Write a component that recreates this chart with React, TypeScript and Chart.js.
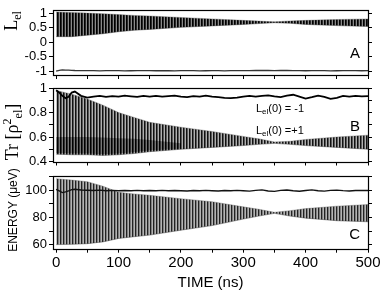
import React, { useEffect, useRef } from 'react';
import { Chart, registerables } from 'chart.js';

Chart.register(...registerables);

// ---------------- data ----------------
const envTimes = [0, 25, 50, 75, 100, 125, 150, 200, 250, 300, 325, 350, 375, 400, 450, 500];

// Panel A (L_el), L_el(0)=+1 oscillation envelope
const aUpper = [1.04, 1.02, 1.0, 0.98, 0.95, 0.92, 0.9, 0.85, 0.8, 0.75, 0.725, 0.7, 0.73, 0.75, 0.78, 0.8];
const aLower = [0.19, 0.19, 0.24, 0.29, 0.36, 0.41, 0.44, 0.51, 0.56, 0.61, 0.64, 0.67, 0.65, 0.61, 0.57, 0.54];

// Panel B (Tr rho^2), L_el(0)=+1 oscillation envelope
const bUpper = [0.98, 0.95, 0.91, 0.86, 0.8, 0.76, 0.72, 0.68, 0.645, 0.605, 0.585, 0.56, 0.565, 0.58, 0.6, 0.615];
const bLower = [0.46, 0.455, 0.455, 0.45, 0.455, 0.465, 0.48, 0.5, 0.515, 0.53, 0.54, 0.548, 0.54, 0.53, 0.515, 0.5];
// darker, densely covered lower part of the panel B band (early times)
const bDenseTimes = [0, 25, 50, 75, 100, 125, 150, 200];
const bDenseTop = [0.6, 0.6, 0.6, 0.595, 0.59, 0.585, 0.575, 0.55];
const bDenseBottom = [0.47, 0.465, 0.465, 0.46, 0.465, 0.475, 0.49, 0.505];

// Panel C (energy), L_el(0)=+1 oscillation envelope
const cUpper = [108.5, 107.5, 106.3, 103, 98.5, 97.3, 96.3, 93.8, 91.6, 87.8, 86, 83.8, 85, 86.5, 88.3, 89.5];
const cLower = [60, 60.2, 60.7, 62, 64.5, 65.8, 67, 70.6, 74, 78.8, 81, 83, 81, 79.5, 77.6, 76.8];

// L_el(0) = -1 curves
const lineTimes = [
  0, 5, 10, 15, 20, 25, 30, 40, 50, 60,
  70, 80, 90, 100, 110, 120, 130, 140, 150, 160,
  170, 180, 190, 200, 210, 220, 230, 240, 250, 260,
  270, 280, 290, 300, 310, 320, 330, 340, 350, 360,
  370, 380, 390, 400, 410, 420, 430, 440, 450, 460,
  470, 480, 490, 500,
];
const aMinus = [
  -1.0, -0.97, -0.955, -0.96, -0.965, -0.97, -0.975, -0.98, -0.978, -0.982,
  -0.985, -0.98, -0.978, -0.982, -0.985, -0.983, -0.98, -0.978, -0.982, -0.984,
  -0.98, -0.983, -0.985, -0.98, -0.978, -0.982, -0.985, -0.983, -0.98, -0.982,
  -0.985, -0.98, -0.978, -0.982, -0.98, -0.975, -0.972, -0.975, -0.978, -0.975,
  -0.972, -0.978, -0.98, -0.983, -0.98, -0.978, -0.982, -0.985, -0.983, -0.98,
  -0.978, -0.982, -0.984, -0.98,
];
const bMinus = [
  0.982, 0.963, 0.936, 0.917, 0.928, 0.963, 0.971, 0.936, 0.922, 0.93,
  0.936, 0.928, 0.934, 0.93, 0.938, 0.932, 0.927, 0.935, 0.93, 0.936,
  0.929, 0.933, 0.938, 0.93, 0.926, 0.934, 0.93, 0.937, 0.929, 0.925,
  0.92, 0.917, 0.922, 0.93, 0.935, 0.93, 0.936, 0.94, 0.932, 0.926,
  0.938, 0.945, 0.93, 0.914, 0.925, 0.938, 0.928, 0.912, 0.92, 0.935,
  0.93, 0.936, 0.932, 0.934,
];
const cMinus = [
  100.7, 99.5, 98.3, 98.8, 99.5, 100.5, 100.7, 100.2, 100, 99.8,
  100.1, 99.7, 99.9, 99.6, 99.8, 99.7, 99.9, 99.6, 99.8, 99.7,
  99.9, 99.6, 99.8, 99.7, 99.5, 99.8, 99.6, 99.9, 99.7, 99.5,
  99.8, 99.6, 99.9, 99.7, 99.4, 99.9, 100.3, 99.5, 99.2, 99.9,
  100.2, 99.6, 99.3, 99.8, 100.3, 99.6, 99.4, 99.9, 100.1, 99.7,
  99.5, 99.8, 99.9, 99.8,
];

// tick labels
const xTickLabels = [0, 100, 200, 300, 400, 500];
const aTickLabels = [1, 0.5, 0, -0.5, -1];
const bTickLabels = [1, 0.8, 0.6, 0.4];
const cTickLabels = [100, 80, 60];

// ---------------- styling ----------------
const SANS = '"Liberation Sans", Arial, Helvetica, sans-serif';
const SERIF = '"Liberation Serif", "Times New Roman", Times, serif';
const W = 382;
const H = 293;

function stripePattern(colors: string[]) {
  const c = document.createElement('canvas');
  c.width = colors.length;
  c.height = 1;
  const g = c.getContext('2d')!;
  colors.forEach((col, i) => {
    g.fillStyle = col;
    g.fillRect(i, 0, 1, 1);
  });
  return g.createPattern(c, 'repeat');
}

type Seg = { text: string; size: number; dy: number; family: string };

function drawRotated(ctx: CanvasRenderingContext2D, baseX: number, cy: number, segs: Seg[]) {
  ctx.save();
  ctx.translate(baseX, cy);
  ctx.rotate(-Math.PI / 2);
  ctx.fillStyle = '#000';
  ctx.textBaseline = 'alphabetic';
  ctx.textAlign = 'left';
  let total = 0;
  segs.forEach((s) => {
    ctx.font = `${s.size}px ${s.family}`;
    total += ctx.measureText(s.text).width;
  });
  let x = -total / 2;
  segs.forEach((s) => {
    ctx.font = `${s.size}px ${s.family}`;
    ctx.fillText(s.text, x, s.dy);
    x += ctx.measureText(s.text).width;
  });
  ctx.restore();
}

function drawRow(ctx: CanvasRenderingContext2D, x0: number, y: number, segs: Seg[]) {
  ctx.save();
  ctx.fillStyle = '#000';
  ctx.textBaseline = 'alphabetic';
  ctx.textAlign = 'left';
  let x = x0;
  segs.forEach((s) => {
    ctx.font = `${s.size}px ${s.family}`;
    ctx.fillText(s.text, x, y + s.dy);
    x += ctx.measureText(s.text).width;
  });
  ctx.restore();
}

function drawLetter(ctx: CanvasRenderingContext2D, letter: string, xRight: number, y: number) {
  ctx.save();
  ctx.fillStyle = '#000';
  ctx.font = `15px ${SANS}`;
  ctx.textAlign = 'right';
  ctx.textBaseline = 'alphabetic';
  ctx.fillText(letter, xRight, y);
  ctx.restore();
}

type PanelCfg = {
  top: number;
  bottom: number;
  min: number;
  max: number;
  step: number;
  yLabels: number[];
  upper: number[];
  lower: number[];
  minus: number[];
  minusWidth: number;
  minusColor: string;
  stripes: string[];
  dense?: { times: number[]; top: number[]; bottom: number[]; stripes: string[] };
  showX: boolean;
  decorate: (ctx: CanvasRenderingContext2D) => void;
};

function makeChart(canvas: HTMLCanvasElement, p: PanelCfg) {
  const pattern = stripePattern(p.stripes);
  const framePlugin = {
    id: 'frameAndText',
    afterDraw(chart: any) {
      const ctx = chart.ctx as CanvasRenderingContext2D;
      const a = chart.chartArea;
      ctx.save();
      ctx.strokeStyle = '#000';
      ctx.lineWidth = 1.2;
      ctx.strokeRect(Math.round(a.left) + 0.5, Math.round(a.top) + 0.5, Math.round(a.right - a.left), Math.round(a.bottom - a.top));
      ctx.restore();
      p.decorate(ctx);
    },
  };
  const datasets: any[] = [
    {
      data: lineTimes.map((t, i) => ({ x: t, y: p.minus[i] })),
      borderColor: p.minusColor,
      borderWidth: p.minusWidth,
      pointRadius: 0,
      fill: false,
    },
  ];
  if (p.dense) {
    const d = p.dense;
    datasets.push(
      {
        data: d.times.map((t, i) => ({ x: t, y: d.top[i] })),
        borderColor: 'rgba(0,0,0,0)',
        borderWidth: 0,
        pointRadius: 0,
        fill: false,
      },
      {
        data: d.times.map((t, i) => ({ x: t, y: d.bottom[i] })),
        borderColor: 'rgba(0,0,0,0)',
        borderWidth: 0,
        pointRadius: 0,
        fill: '-1',
        backgroundColor: stripePattern(d.stripes) as any,
      },
    );
  }
  datasets.push(
    {
      data: envTimes.map((t, i) => ({ x: t, y: p.upper[i] })),
      borderColor: 'rgba(90,90,90,0.6)',
      borderWidth: 0.6,
      pointRadius: 0,
      fill: false,
    },
    {
      data: envTimes.map((t, i) => ({ x: t, y: p.lower[i] })),
      borderColor: 'rgba(40,40,40,0.7)',
      borderWidth: 0.6,
      pointRadius: 0,
      fill: '-1',
      backgroundColor: pattern as any,
    },
  );
  const tickGrid = { drawOnChartArea: false, drawTicks: true, tickLength: 4, color: '#000', tickColor: '#000', lineWidth: 1 };
  return new Chart(canvas, {
    type: 'line',
    data: { datasets },
    options: {
      responsive: false,
      animation: false,
      events: [],
      layout: { padding: { top: p.top, left: 0, right: 0, bottom: 0 } },
      plugins: { legend: { display: false }, tooltip: { enabled: false } },
      scales: {
        x: {
          type: 'linear',
          position: 'bottom',
          min: -5,
          max: 500,
          afterFit: (s: any) => {
            s.height = H - p.bottom;
          },
          border: { display: false },
          grid: tickGrid,
          ticks: {
            stepSize: 50,
            includeBounds: false,
            autoSkip: false,
            maxRotation: 0,
            padding: 1,
            color: '#000',
            font: { family: SANS, size: 15 },
            callback: (v: any) => (p.showX && xTickLabels.includes(Number(v)) ? String(v) : ''),
          },
          title: {
            display: p.showX,
            text: 'TIME (ns)',
            color: '#000',
            font: { family: SANS, size: 15 },
            padding: { top: 0, bottom: 1 },
          },
        },
        y: {
          type: 'linear',
          position: 'left',
          min: p.min,
          max: p.max,
          afterFit: (s: any) => {
            s.width = 53;
          },
          border: { display: false },
          grid: tickGrid,
          ticks: {
            stepSize: p.step,
            includeBounds: false,
            autoSkip: false,
            padding: 2,
            color: '#000',
            font: { family: SANS, size: 13 },
            callback: (v: any) => {
              const l = p.yLabels.find((q) => Math.abs(q - Number(v)) < 1e-6);
              return l === undefined ? '' : String(l);
            },
          },
        },
        y2: {
          type: 'linear',
          position: 'right',
          min: p.min,
          max: p.max,
          afterFit: (s: any) => {
            s.width = W - 368;
          },
          border: { display: false },
          grid: tickGrid,
          ticks: {
            stepSize: p.step,
            includeBounds: false,
            autoSkip: false,
            callback: () => '',
          },
        },
      },
    },
    plugins: [framePlugin],
  } as any);
}

export default function App() {
  const refA = useRef<HTMLCanvasElement>(null);
  const refB = useRef<HTMLCanvasElement>(null);
  const refC = useRef<HTMLCanvasElement>(null);

  useEffect(() => {
    const charts = [
      makeChart(refA.current!, {
        top: 2,
        bottom: 75,
        min: -1.13,
        max: 1.1,
        step: 0.5,
        yLabels: aTickLabels,
        upper: aUpper,
        lower: aLower,
        minus: aMinus,
        minusWidth: 1.3,
        minusColor: '#333',
        stripes: ['#000', '#2a2a2a', '#8a8a8a'],
        showX: false,
        decorate: (ctx) => {
          drawRotated(ctx, 17, 21, [
            { text: 'L', size: 18, dy: 0, family: SERIF },
            { text: 'el', size: 12, dy: 4, family: SERIF },
          ]);
          drawLetter(ctx, 'A', 360, 58.3);
        },
      }),
      makeChart(refB.current!, {
        top: 88,
        bottom: 161.5,
        min: 0.4,
        max: 1.0,
        step: 0.1,
        yLabels: bTickLabels,
        upper: bUpper,
        lower: bLower,
        minus: bMinus,
        minusWidth: 1.8,
        minusColor: '#000',
        stripes: ['#111', '#5a5a5a', '#b0b0b0'],
        dense: { times: bDenseTimes, top: bDenseTop, bottom: bDenseBottom, stripes: ['#000', '#333', '#777'] },
        showX: false,
        decorate: (ctx) => {
          drawRotated(ctx, 18, 132, [
            { text: 'Tr [ρ', size: 18, dy: 0, family: SERIF },
            { text: '2', size: 12, dy: -7, family: SERIF },
            { text: 'el', size: 12, dy: 4, family: SERIF },
            { text: ']', size: 18, dy: 0, family: SERIF },
          ]);
          drawRow(ctx, 256, 111.5, [
            { text: 'L', size: 11, dy: 0, family: SANS },
            { text: 'el', size: 8, dy: 2.5, family: SANS },
            { text: '(0) = -1', size: 11, dy: 0, family: SANS },
          ]);
          drawRow(ctx, 256, 133.5, [
            { text: 'L', size: 11, dy: 0, family: SANS },
            { text: 'el', size: 8, dy: 2.5, family: SANS },
            { text: '(0) =+1', size: 11, dy: 0, family: SANS },
          ]);
          drawLetter(ctx, 'B', 360, 130.7);
        },
      }),
      makeChart(refC.current!, {
        top: 176,
        bottom: 248.7,
        min: 57,
        max: 110.5,
        step: 10,
        yLabels: cTickLabels,
        upper: cUpper,
        lower: cLower,
        minus: cMinus,
        minusWidth: 1.4,
        minusColor: '#111',
        stripes: ['#222', '#808080', '#b4b4b4'],
        showX: true,
        decorate: (ctx) => {
          drawRotated(ctx, 16.5, 210, [{ text: 'ENERGY (μeV)', size: 12, dy: 0, family: SANS }]);
          drawLetter(ctx, 'C', 360, 238.7);
        },
      }),
    ];
    return () => charts.forEach((c) => c.destroy());
  }, []);

  const cs: React.CSSProperties = { position: 'absolute', left: 0, top: 0, width: W, height: H };
  return (
    <div style={{ position: 'fixed', left: 0, top: 0, width: W, height: H, background: '#fff' }}>
      <canvas ref={refA} width={W} height={H} style={cs} />
      <canvas ref={refB} width={W} height={H} style={cs} />
      <canvas ref={refC} width={W} height={H} style={cs} />
    </div>
  );
}
